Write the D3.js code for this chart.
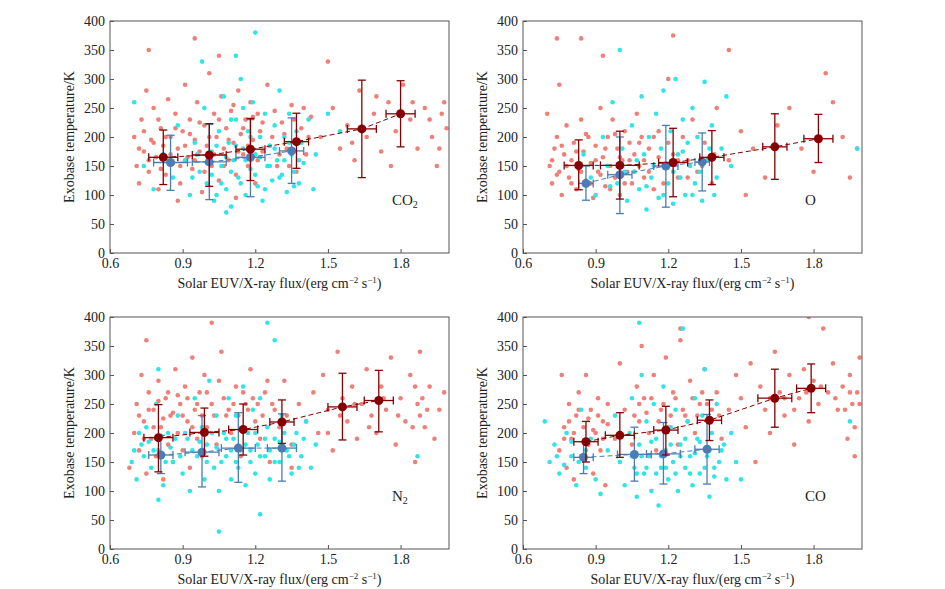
<!DOCTYPE html>
<html><head><meta charset="utf-8">
<script src="https://cdn.jsdelivr.net/npm/d3@7/dist/d3.min.js"></script>
<style>body{margin:0;background:#fff}text{font-family:"Liberation Serif","DejaVu Serif",serif}</style>
</head><body><svg id="c" width="945" height="589"></svg>
<script>
const xTicks=[0.6,0.9,1.2,1.5,1.8];
const yTicks=[0,50,100,150,200,250,300,350,400];
const species=["CO2","O","N2","CO"];
// scatter points "x y" pairs
const salmonCO2="0.70 200,0.71 150,0.72 120,0.73 230,0.74 175,0.75 280,0.76 140,0.77 195,0.78 250,0.79 165,0.80 110,0.81 215,0.82 185,0.83 135,0.84 265,0.85 200,0.86 155,0.87 240,0.88 180,0.89 120,0.90 210,0.91 290,0.92 165,0.93 230,0.94 145,0.95 195,0.96 260,0.97 175,0.98 105,0.99 220,1.00 185,1.01 310,1.02 150,1.03 240,1.04 200,1.05 125,1.06 270,1.07 180,1.08 215,1.09 160,1.10 245,1.11 190,1.12 135,1.13 280,1.14 205,1.15 170,1.16 230,1.17 150,1.18 260,1.19 195,1.20 120,1.21 240,1.22 210,1.23 175,1.25 290,1.27 200,1.29 150,1.31 225,1.33 180,1.35 255,1.37 140,1.39 215,1.41 170,1.43 235,1.47 200,1.50 330,1.52 250,1.55 180,1.58 220,1.61 160,1.63 280,1.66 200,1.69 240,1.72 175,1.75 260,1.78 210,1.81 290,1.84 230,1.87 180,1.90 250,1.93 200,1.95 150,1.97 240,1.99 215,0.76 350,0.95 370,1.05 340,0.88 90,1.12 95,0.72 180,0.74 210,0.76 160,0.78 190,0.80 230,0.81 145,0.83 200,0.85 170,0.87 215,0.89 150,0.91 185,0.93 205,0.95 160,0.97 225,0.99 140,1.01 200,1.03 170,1.05 230,1.07 150,1.09 195,1.11 255,1.13 175,1.15 215,1.17 185,1.19 235,1.21 160,1.23 225,1.26 185,1.28 245,1.30 170,1.32 205,1.34 150,1.36 230,1.38 190,1.40 250,1.42 200,1.60 190,1.70 270,1.76 150,1.85 260,1.92 230,1.96 180,1.98 260";
const cyanCO2="0.70 260,0.74 150,0.78 110,0.82 170,0.86 130,0.88 220,0.91 160,0.93 100,0.95 190,0.97 140,0.99 250,1.00 120,1.02 175,1.03 90,1.05 210,1.06 150,1.07 270,1.08 110,1.09 190,1.10 80,1.11 160,1.12 230,1.13 130,1.14 300,1.15 180,1.16 100,1.17 210,1.18 145,1.19 260,1.20 170,1.21 115,1.22 200,1.23 90,1.24 240,1.25 150,1.26 185,1.27 125,1.28 220,1.29 160,1.30 280,1.31 135,1.32 200,1.33 105,1.34 240,1.35 170,1.36 140,1.37 210,1.38 120,1.39 190,1.40 155,1.42 230,1.44 110,1.45 170,1.50 240,1.55 210,1.12 340,1.20 380,1.08 70,0.98 330,0.94 130,0.96 170,1.00 155,1.02 135,1.04 185,1.06 120,1.08 165,1.10 140,1.12 185,1.14 120,1.16 160,1.18 200,1.20 135,1.22 165,1.24 110,1.26 150,1.28 180,1.30 130,1.32 160,1.34 190,1.36 115,1.38 160,1.10 230,1.15 250,1.04 100";
const salmonO="0.70 240,0.71 150,0.72 120,0.73 180,0.74 200,0.75 140,0.76 100,0.77 170,0.78 220,0.79 130,0.80 160,0.81 190,0.82 110,0.83 145,0.84 230,0.85 175,0.86 125,0.87 200,0.88 155,0.89 95,0.90 185,0.91 140,0.92 250,0.93 165,0.94 115,0.95 200,0.96 150,0.97 230,0.98 130,0.99 180,1.00 100,1.01 160,1.02 210,1.03 140,1.04 190,1.05 120,1.06 170,1.07 240,1.08 150,1.09 200,1.10 130,1.12 180,1.14 110,1.16 210,1.18 150,1.20 300,1.22 170,1.24 130,1.26 200,1.28 160,1.30 230,1.32 140,1.35 190,1.38 120,1.40 250,1.45 160,1.50 210,1.52 100,1.55 180,1.60 130,1.65 220,1.70 250,1.75 180,1.80 140,1.85 310,1.88 260,1.92 200,1.95 130,1.98 180,0.74 370,0.84 370,0.93 340,1.22 375,1.45 350,0.75 290,0.72 160,0.74 135,0.76 185,0.78 150,0.80 120,0.82 175,0.84 140,0.86 205,0.88 120,0.90 160,0.92 135,0.94 180,0.96 110,0.98 205,1.00 165,1.02 120,1.04 160,1.06 140,1.08 190,1.10 160,1.12 140,1.14 200,1.16 165,1.18 120,1.20 190,1.24 160,1.28 130,1.34 150,1.39 170";
const cyanO="0.85 170,0.88 130,0.90 100,0.93 200,0.95 150,0.97 260,0.99 120,1.00 350,1.01 180,1.03 90,1.05 220,1.06 140,1.08 110,1.09 270,1.10 170,1.11 75,1.12 200,1.13 130,1.15 240,1.16 95,1.17 180,1.18 280,1.19 150,1.20 120,1.21 210,1.22 85,1.23 300,1.24 170,1.25 130,1.26 230,1.27 100,1.28 190,1.29 150,1.30 250,1.31 120,1.32 200,1.34 90,1.35 295,1.36 160,1.38 220,1.40 130,1.42 180,1.44 270,1.46 150,1.98 180,0.96 115,1.02 140,1.07 160,1.11 115,1.14 150,1.18 100,1.22 140,1.26 175,1.30 100,1.33 140,1.37 180,1.39 100";
const salmonN2="0.68 140,0.70 200,0.71 250,0.72 170,0.73 300,0.74 220,0.75 130,0.76 270,0.77 190,0.78 240,0.79 160,0.80 290,0.81 210,0.82 120,0.83 260,0.84 180,0.85 230,0.86 150,0.87 310,0.88 200,0.89 250,0.90 170,0.91 280,0.92 220,0.93 140,0.94 330,0.95 240,0.96 190,0.97 270,0.98 160,0.99 300,1.00 210,1.02 250,1.04 180,1.06 340,1.08 230,1.10 200,1.12 280,1.14 160,1.16 250,1.18 310,1.20 220,1.22 190,1.24 270,1.26 150,1.28 240,1.30 210,1.32 290,1.35 180,1.38 250,1.41 220,1.44 270,1.46 200,1.48 300,1.50 240,1.52 170,1.54 340,1.56 260,1.58 220,1.60 280,1.62 190,1.64 250,1.66 310,1.68 230,1.70 200,1.72 280,1.74 240,1.76 330,1.78 180,1.80 260,1.82 220,1.84 300,1.86 150,1.87 250,1.88 340,1.90 210,1.92 280,1.94 190,1.96 240,1.98 270,0.75 360,1.02 390,1.35 140,0.72 230,0.74 190,0.76 240,0.78 210,0.80 255,0.82 225,0.84 270,0.86 235,0.88 265,0.90 230,0.92 260,0.94 210,0.96 250,0.98 230,1.00 270,1.03 230,1.05 290,1.07 260,1.09 240,1.11 250,1.13 230,1.15 270,1.17 240,1.19 260,1.21 250,1.23 230,1.25 290,1.27 250,1.33 230,1.50 200,1.55 230,1.61 250,1.67 210,1.73 260,1.79 230,1.85 210,1.86 280,1.88 230,1.89 260,1.91 240";
const cyanN2="0.69 150,0.71 120,0.73 180,0.75 210,0.77 140,0.79 250,0.80 170,0.82 110,0.84 200,0.86 150,0.88 230,0.90 130,0.92 190,0.93 100,0.95 260,0.96 160,0.98 210,0.99 120,1.00 180,1.01 290,1.03 140,1.04 230,1.05 100,1.07 200,1.08 160,1.09 260,1.10 120,1.11 190,1.12 230,1.13 140,1.14 170,1.15 280,1.16 110,1.17 200,1.18 150,1.19 240,1.20 130,1.21 180,1.22 260,1.24 160,1.25 210,1.26 120,1.28 190,1.30 150,1.31 230,1.33 170,1.35 130,1.37 200,1.39 160,1.41 220,1.43 140,1.45 180,0.80 85,1.05 30,1.22 60,1.25 390,1.28 360,0.80 310,1.87 160,0.70 170,0.72 200,0.74 160,0.76 185,0.78 170,0.81 195,0.83 150,0.85 175,0.87 190,0.89 160,0.91 200,0.94 170,0.97 185,1.00 150,1.02 200,1.04 175,1.06 150,1.08 190,1.10 170,1.12 150,1.14 205,1.16 180,1.18 170,1.20 200,1.22 160,1.24 190,1.26 170,1.28 150,1.30 185,1.32 200,1.34 160,1.36 180,1.38 140,1.40 190";
const salmonCO="0.75 170,0.76 300,0.77 210,0.78 140,0.79 250,0.80 190,0.81 120,0.82 230,0.83 270,0.84 160,0.85 210,0.86 300,0.87 180,0.88 240,0.89 130,0.90 200,0.91 260,0.92 170,0.93 220,0.94 110,0.95 250,0.98 190,1.00 320,1.02 240,1.05 180,1.07 280,1.08 220,1.09 350,1.10 260,1.12 200,1.14 300,1.15 170,1.17 240,1.19 330,1.20 210,1.22 270,1.24 180,1.25 360,1.27 230,1.29 290,1.31 200,1.33 250,1.35 310,1.37 220,1.40 270,1.42 190,1.45 240,1.48 300,1.50 260,1.52 210,1.54 320,1.56 150,1.58 280,1.60 240,1.62 200,1.64 340,1.66 270,1.68 230,1.70 300,1.72 180,1.74 260,1.76 310,1.78 220,1.80 290,1.82 250,1.84 380,1.86 270,1.88 320,1.90 240,1.92 280,1.94 190,1.95 300,1.96 250,1.97 160,1.98 270,1.99 330,1.78 400,1.25 380,0.77 190,0.79 220,0.81 200,0.83 240,0.85 185,0.87 225,0.89 205,0.91 230,0.93 190,0.95 215,1.06 230,1.08 250,1.11 235,1.13 260,1.16 220,1.18 250,1.21 230,1.23 260,1.26 240,1.28 220,1.30 260,1.32 230,1.34 270,1.36 250,1.38 240,1.41 230,1.62 260,1.68 260,1.72 240,1.77 270,1.83 280,1.89 260,1.93 240,1.95 270,1.97 210,1.99 250";
const cyanCO="0.69 220,0.71 150,0.73 180,0.75 130,0.78 200,0.80 160,0.82 110,0.84 240,0.86 140,0.88 190,0.90 120,0.92 95,0.95 170,0.98 230,1.00 150,1.02 110,1.04 200,1.05 260,1.06 140,1.07 90,1.08 180,1.09 300,1.10 130,1.11 220,1.12 160,1.13 100,1.14 250,1.15 190,1.16 75,1.17 140,1.18 280,1.19 170,1.20 120,1.21 210,1.22 150,1.23 240,1.24 100,1.25 180,1.26 380,1.27 140,1.28 220,1.29 160,1.30 110,1.31 260,1.32 190,1.33 130,1.34 230,1.35 310,1.36 160,1.37 90,1.38 200,1.39 140,1.40 250,1.42 170,1.44 120,1.46 200,1.48 150,1.50 120,1.95 220,1.08 390,0.74 160,0.77 145,0.80 185,0.83 150,0.86 170,1.05 160,1.07 130,1.09 160,1.11 140,1.13 185,1.15 130,1.17 160,1.19 140,1.21 180,1.23 130,1.25 160,1.27 190,1.29 130,1.31 165,1.33 185,1.35 140,1.37 170,1.39 125,1.41 150,1.43 180";
// binned means: [x, mean, low, high, xerr]
const redCO2=[[0.82,165,118,212,0.06],[1.01,169,115,223,0.07],[1.18,179,125,232,0.06],[1.37,192,146,241,0.05],[1.64,214,130,298,0.06],[1.80,240,183,297,0.06]];
const blueCO2=[[0.85,156,108,203,0.07],[1.01,157,92,222,0.07],[1.18,165,97,230,0.06],[1.35,176,120,233,0.05]];
const redO=[[0.83,151,109,195,0.06],[1.00,151,93,210,0.08],[1.22,156,97,215,0.06],[1.38,165,118,211,0.05],[1.64,183,127,240,0.05],[1.82,197,156,239,0.06]];
const blueO=[[0.86,120,91,150,0.03],[1.00,135,68,200,0.05],[1.19,150,79,220,0.05],[1.34,157,107,207,0.03]];
const redN2=[[0.80,192,133,249,0.06],[0.99,201,160,243,0.06],[1.15,206,162,250,0.06],[1.31,219,182,257,0.05],[1.56,245,188,303,0.06],[1.71,256,202,308,0.06]];
const blueN2=[[0.81,162,130,196,0.05],[0.98,167,107,230,0.07],[1.13,174,115,235,0.07],[1.31,174,117,233,0.06]];
const redCO=[[0.86,185,150,220,0.05],[1.00,196,158,235,0.06],[1.19,205,162,246,0.05],[1.37,222,187,257,0.05],[1.64,260,210,310,0.07],[1.79,277,235,319,0.06]];
const blueCO=[[0.85,158,130,185,0.04],[1.06,163,117,210,0.07],[1.18,164,112,218,0.07],[1.36,172,112,232,0.05]];

const parse=s=>s.split(",").map(p=>p.trim().split(" ").map(Number));
const panels=[
 {name:"CO",sub:"2",x0:110,y0:21,s:salmonCO2,c:cyanCO2,r:redCO2,b:blueCO2},
 {name:"O",sub:"",x0:523,y0:21,s:salmonO,c:cyanO,r:redO,b:blueO},
 {name:"N",sub:"2",x0:110,y0:317,s:salmonN2,c:cyanN2,r:redN2,b:blueN2},
 {name:"CO",sub:"",x0:523,y0:317,s:salmonCO,c:cyanCO,r:redCO,b:blueCO}];
const W=339,H=232;
const FF='"Liberation Serif","DejaVu Serif",serif';
const svg=d3.select("#c");
panels.forEach(p=>{
 const g=svg.append("g").attr("transform",`translate(${p.x0},${p.y0})`);
 const x=d3.scaleLinear().domain([0.6,2.0]).range([0,W]);
 const y=d3.scaleLinear().domain([0,400]).range([H,0]);
 const clip="clip"+p.x0+p.y0;
 g.append("clipPath").attr("id",clip).append("rect").attr("width",W).attr("height",H);
 const pg=g.append("g").attr("clip-path",`url(#${clip})`);
 pg.selectAll(".s").data(parse(p.s)).join("circle").attr("cx",d=>x(d[0])).attr("cy",d=>y(d[1])).attr("r",2.3).attr("fill","#ef8079");
 pg.selectAll(".c").data(parse(p.c)).join("circle").attr("cx",d=>x(d[0])).attr("cy",d=>y(d[1])).attr("r",2.3).attr("fill","#2ee6e6");
 const drawMeans=(data,col)=>{
  pg.append("path").datum(data).attr("d",d3.line().x(d=>x(d[0])).y(d=>y(d[1]))).attr("fill","none").attr("stroke",col).attr("stroke-width",1).attr("stroke-dasharray","5,3");
  const e=pg.append("g").attr("stroke",col).attr("stroke-width",1.3);
  data.forEach(d=>{
   const cx=x(d[0]),cy=y(d[1]);
   e.append("line").attr("x1",cx).attr("x2",cx).attr("y1",y(d[2])).attr("y2",y(d[3]));
   e.append("line").attr("x1",cx-4).attr("x2",cx+4).attr("y1",y(d[2])).attr("y2",y(d[2]));
   e.append("line").attr("x1",cx-4).attr("x2",cx+4).attr("y1",y(d[3])).attr("y2",y(d[3]));
   e.append("line").attr("x1",x(d[0]-d[4])).attr("x2",x(d[0]+d[4])).attr("y1",cy).attr("y2",cy);
   e.append("line").attr("x1",x(d[0]-d[4])).attr("x2",x(d[0]-d[4])).attr("y1",cy-4).attr("y2",cy+4);
   e.append("line").attr("x1",x(d[0]+d[4])).attr("x2",x(d[0]+d[4])).attr("y1",cy-4).attr("y2",cy+4);
  });
  pg.selectAll(null).data(data).join("circle").attr("cx",d=>x(d[0])).attr("cy",d=>y(d[1])).attr("r",4.5).attr("fill",col);
 };
 drawMeans(p.b,"#4a7db5");
 drawMeans(p.r,"#850000");
 g.append("rect").attr("width",W).attr("height",H).attr("fill","none").attr("stroke","#555").attr("stroke-width",1);
 const xa=g.append("g").attr("transform",`translate(0,${H})`).call(d3.axisBottom(x).tickValues(xTicks).tickFormat(d3.format(".1f")).tickSizeInner(-4).tickSizeOuter(0).tickPadding(5));
 const ya=g.append("g").call(d3.axisLeft(y).tickValues(yTicks).tickSizeInner(-4).tickSizeOuter(0).tickPadding(5));
 [xa,ya].forEach(a=>{a.attr("font-family",FF).attr("font-size",14);a.select(".domain").remove();a.selectAll("text").attr("fill","#222").style("font-family",FF).style("font-size","14px");a.selectAll("line").attr("stroke","#555");});
 g.append("text").attr("x",W/2).attr("y",H+35).attr("text-anchor","middle").style("font-family",FF).attr("font-size",14).attr("fill","#222")
  .html('Solar EUV/X-ray flux/(erg cm<tspan font-size="9" dy="-5">−2</tspan><tspan dy="5"> s</tspan><tspan font-size="9" dy="-5">−1</tspan><tspan dy="5">)</tspan>');
 g.append("text").attr("transform",`translate(-36,${H/2}) rotate(-90)`).attr("text-anchor","middle").style("font-family",FF).attr("font-size",14).attr("fill","#222").text("Exobase temperature/K");
 const lt=g.append("text").attr("x",W-57).attr("y",H-48).style("font-family",FF).attr("font-size",15).attr("fill","#222").text(p.name);
 if(p.sub) lt.append("tspan").attr("font-size",10).attr("dy",3).text(p.sub);
});
</script></body></html>
